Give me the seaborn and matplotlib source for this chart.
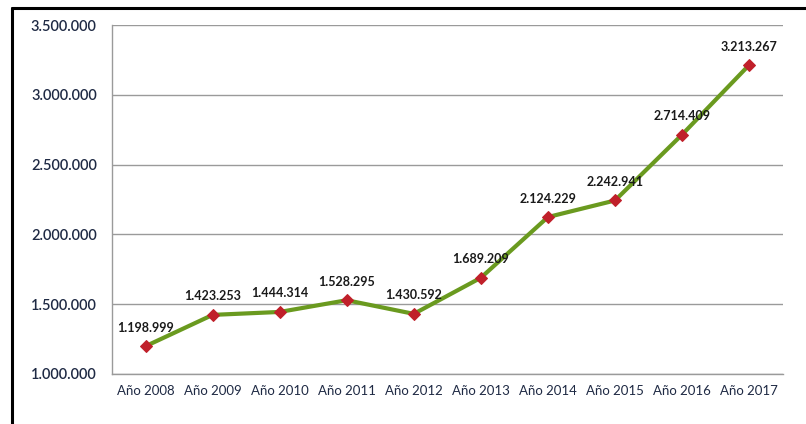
import pandas as pd
import seaborn as sns
import matplotlib.pyplot as plt
from matplotlib.lines import Line2D
from matplotlib.ticker import FuncFormatter

years = ["Año 2008", "Año 2009", "Año 2010", "Año 2011", "Año 2012",
         "Año 2013", "Año 2014", "Año 2015", "Año 2016", "Año 2017"]
values = [1198999, 1423253, 1444314, 1528295, 1430592,
          1689209, 2124229, 2242941, 2714409, 3213267]

df = pd.DataFrame({"year": years, "value": values})

sns.set_style("white")
plt.rcParams["font.family"] = ["Lato", "DejaVu Sans"]

fig = plt.figure(figsize=(8.06, 4.24), dpi=100)
ax = fig.add_axes([0.139, 0.118, 0.832, 0.823])

sns.lineplot(data=df, x="year", y="value", ax=ax, color="#6a9a1f", linewidth=3,
             marker="D", markersize=6.5, markerfacecolor="#c0202a",
             markeredgecolor="#c0202a", sort=False)

def fmt(v):
    return f"{int(v):,}".replace(",", ".")

for i, v in enumerate(values):
    ax.annotate(fmt(v), (i, v), xytext=(0, 9), textcoords="offset points",
                ha="center", va="bottom", fontsize=9, fontweight="bold", color="#1a1a1a")

ax.set_ylim(1000000, 3500000)
ax.set_xlim(-0.5, len(years) - 0.5)
ax.set_yticks(range(1000000, 3500001, 500000))
ax.yaxis.set_major_formatter(FuncFormatter(lambda v, p: fmt(v)))
ax.grid(axis="y", color="#9a9a9a", linewidth=1)
ax.set_axisbelow(True)
for s in ["top", "right"]:
    ax.spines[s].set_visible(False)
for s in ["left", "bottom"]:
    ax.spines[s].set_color("#9a9a9a")
    ax.spines[s].set_linewidth(1)
ax.tick_params(axis="both", length=0, colors="#1f2a44")
ax.tick_params(axis="y", pad=11, labelsize=10.5)
ax.tick_params(axis="x", pad=8, labelsize=9.5)
for lbl in ax.get_yticklabels():
    lbl.set_fontweight("semibold")
ax.set_xlabel("")
ax.set_ylabel("")

# outer frame
fig.add_artist(Line2D([0.015, 0.015], [0, 0.981], color="black", linewidth=2.2,
                      transform=fig.transFigure))
fig.add_artist(Line2D([0.015, 1.0], [0.981, 0.981], color="black", linewidth=2.2,
                      transform=fig.transFigure))

fig.savefig("out.png", dpi=100)
